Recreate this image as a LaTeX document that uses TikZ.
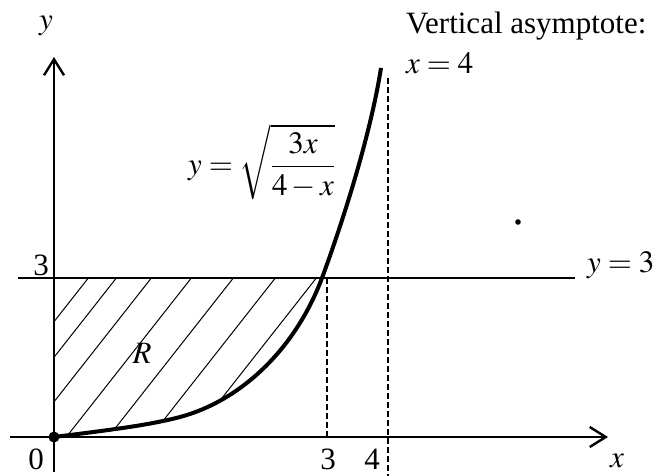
\documentclass[tikz,border=0pt]{standalone}
\usepackage{mathptmx}
\usepackage{fontspec}
\setmainfont{Liberation Serif}
\usetikzlibrary{arrows.meta}

\begin{document}
\begin{tikzpicture}[x=1pt, y=-1pt, >={Straight Barb[length=16pt,width=20pt]},
  axis/.style={line width=2.4pt},
  curve/.style={line width=4pt},
  guide/.style={line width=1.6pt, dash pattern=on 6pt off 3pt},
  hatch/.style={line width=1pt},
  lbl/.style={font=\fontsize{31}{34}\selectfont, inner sep=0pt}]
  \useasboundingbox (0,0) rectangle (659,476);

  % points on the curve
  \coordinate (O) at (54,437);
  \coordinate (bend) at (180,417);
  \coordinate (P) at (322,278);
  \coordinate (top) at (381,68);

  % region R
  \begin{scope}
    \clip (54,278) -- (P) .. controls (295,350) and (240,401) .. (bend)
      .. controls (150,425) and (110,430) .. (O) -- cycle;
    \foreach \t in {80,108,143,183,225,267,308}
      \draw[hatch] (\t+50,225) -- (\t-200,543);
  \end{scope}

  % axes
  \coordinate (xe) at (608,437);
  \coordinate (ye) at (54,57);
  \draw[axis, ->] (10,437) -- (xe);
  \draw[axis, ->] (54,472) -- (ye);
  \fill (O) circle (5.5pt);

  % asymptote and x = 3
  \draw[guide] (388,78) -- (388,476);
  \draw[guide] (327,278) -- (327,437);

  % y = 3
  \coordinate (ya) at (18,278);
  \coordinate (yb) at (575,278);
  \draw[axis] (ya) -- (yb);

  % curve
  \draw[curve] (O) .. controls (110,430) and (150,425) .. (bend)
    .. controls (240,401) and (295,350) .. (P)
    .. controls (332,251) and (368,150) .. (top);

  \fill (518,222) circle (2.8pt);

  % labels
  \node[lbl] (ylab) at (46,26) {$y$};
  \node[lbl] (xlab) at (617,461) {$x$};
  \node[lbl] (zero) at (36,459) {0};
  \node[lbl] (three) at (328,459) {3};
  \node[lbl] (four) at (372,459) {4};
  \node[lbl] (ythree) at (41,265) {3};
  \node[lbl, anchor=west] (yline) at (587,265) {$y=3$};
  \node[lbl] (R) at (142,353) {$R$};
  \node[lbl, anchor=west] (fx) at (188,162) {$\displaystyle y=\sqrt{\frac{3x}{4-x}}$};
  \node[lbl, anchor=west] (vert) at (406,26) {Vertical asymptote:};
  \node[lbl, anchor=west] (xfour) at (406,63) {$x=4$};
\end{tikzpicture}
\end{document}
